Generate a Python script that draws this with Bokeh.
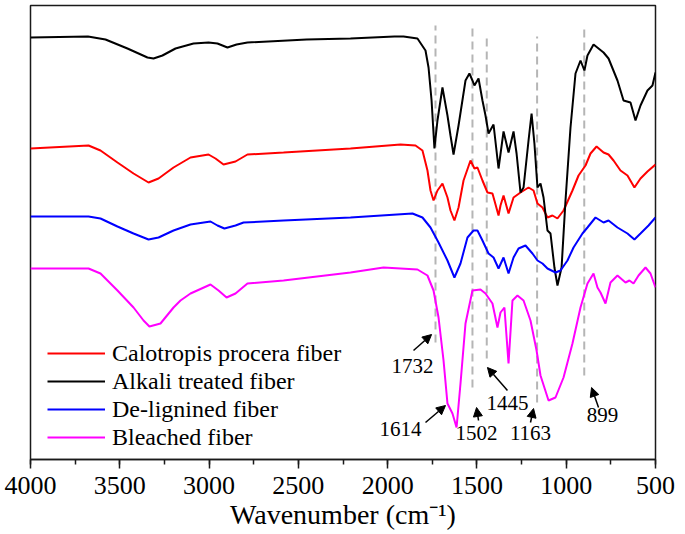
from bokeh.plotting import figure
from bokeh.models import Range1d, SingleIntervalTicker, Arrow, NormalHead, ColumnDataSource
from bokeh.core.properties import value
from bokeh.embed import file_html
from bokeh.resources import INLINE

FONT = "Liberation Serif"

# ---------------- data (wavenumber cm-1, transmittance a.u.) ----------------
alk_wn = [4000, 3678, 3580, 3457, 3345, 3311, 3261, 3188, 3087, 3003, 2953, 2897, 2846, 2785,
          2454, 2208, 1962, 1911, 1833, 1788, 1771, 1754, 1738, 1721, 1693, 1665, 1648, 1631, 1603,
          1564, 1542, 1525, 1514, 1491, 1469, 1452, 1435, 1407, 1379, 1351, 1323, 1295, 1278,
          1256, 1239, 1211, 1194, 1178, 1161, 1144, 1127, 1105, 1088, 1066, 1049, 1026, 1004,
          976, 948, 920, 898, 881, 847, 791, 763, 713, 679, 640, 612, 584, 545, 517, 500]
alk_t = [423, 424, 421, 412, 403, 402, 405, 412, 417, 418, 417, 413, 416, 418,
         421, 422, 424, 424, 422, 410, 393, 360, 312, 340, 373, 345, 325, 306, 335,
         380, 387, 380, 375, 382, 360, 345, 327, 336, 292, 329, 308, 329, 307,
         268, 273, 320, 347, 317, 273, 277, 263, 230, 227, 193, 175, 193, 260,
         333, 387, 400, 390, 405, 416, 408, 402, 380, 360, 358, 340, 355, 370, 375, 388]

cal_wn = [4000, 3675, 3608, 3513, 3423, 3339, 3283, 3199, 3104, 3003, 2964, 2919, 2852, 2785,
          2583, 2208, 1928, 1844, 1805, 1777, 1760, 1743, 1721, 1693, 1665, 1648, 1626, 1603,
          1575, 1536, 1514, 1497, 1469, 1441, 1413, 1402, 1379, 1368, 1351, 1323, 1295, 1256,
          1211, 1183, 1161, 1133, 1105, 1077, 1049, 1015, 965, 931, 892, 864, 830, 791, 763,
          735, 696, 657, 618, 584, 545, 500]
cal_t = [312, 315, 310, 298, 287, 278, 282, 293, 303, 306, 302, 296, 299, 306,
         308, 312, 316, 315, 310, 290, 270, 260, 270, 277, 263, 250, 240, 253,
         280, 300, 292, 293, 280, 268, 267, 260, 245, 255, 265, 247, 263, 268,
         273, 270, 257, 253, 243, 245, 242, 250, 270, 285, 295, 307, 314, 308, 306,
         300, 290, 285, 273, 282, 289, 296]

del_wn = [4000, 3675, 3608, 3513, 3423, 3339, 3283, 3199, 3104, 2992, 2953, 2914, 2852, 2807,
          2583, 2208, 1861, 1805, 1760, 1715, 1665, 1626, 1592, 1553, 1519, 1497, 1469, 1435,
          1407, 1379, 1351, 1323, 1295, 1267, 1228, 1189, 1161, 1133, 1105, 1060, 1032, 993,
          959, 909, 881, 836, 791, 763, 713, 657, 618, 584, 539, 500]
del_t = [244, 244, 242, 234, 227, 221, 223, 230, 236, 239, 235, 232, 235, 238,
         240, 243, 247, 243, 233, 218, 200, 183, 197, 223, 230, 230, 220, 207,
         203, 192, 203, 187, 203, 212, 215, 207, 200, 197, 192, 188, 190, 200,
         213, 227, 233, 243, 238, 240, 233, 227, 221, 227, 235, 243]

ble_wn = [4000, 3675, 3608, 3513, 3423, 3367, 3334, 3272, 3199, 3160, 3104, 2992, 2947, 2902,
          2852, 2785, 2583, 2208, 2023, 1833, 1777, 1743, 1715, 1687, 1665, 1637, 1614, 1592,
          1564, 1525, 1480, 1452, 1413, 1385, 1368, 1346, 1323, 1301, 1273, 1239, 1200, 1166,
          1144, 1099, 1060, 1015, 965, 920, 881, 847, 825, 808, 780, 752, 713, 668, 646, 623,
          595, 556, 528, 500]
ble_t = [192, 192, 187, 170, 153, 140, 134, 137, 153, 160, 167, 176, 170, 163,
         167, 177, 180, 188, 193, 191, 185, 170, 143, 100, 57, 47, 33, 77,
         137, 170, 171, 167, 157, 133, 148, 153, 97, 160, 165, 160, 140, 110,
         85, 60, 63, 83, 117, 153, 177, 187, 173, 168, 157, 178, 185, 178, 180, 177,
         185, 193, 187, 173]

series_names = ["Calotropis procera fiber", "Alkali treated fiber", "De-lignined fiber", "Bleached fiber"]
series_colors = ["#ff0000", "#000000", "#0000ff", "#ff00ff"]

# marker bands (dashed guide lines)
band_wn = [1732, 1525, 1445, 1163, 899]
band_top = [435, 436, 427, 424, 431]
band_bottom = [118, 73, 102, 58, 85]

# peak annotations
ann_text = ["1732", "1614", "1502", "1445", "1163", "899"]
ann_x = [1861, 1928, 1502, 1329, 1200, 797]
ann_y = [95, 32, 28, 58, 28, 46]
arr_x0 = [1855, 1788, 1491, 1329, 1200, 819]
arr_y0 = [110, 38, 40, 70, 38, 53]
arr_x1 = [1754, 1676, 1502, 1441, 1183, 858]
arr_y1 = [126, 55, 53, 93, 52, 73]

# ---------------- figure ----------------
p = figure(width=685, height=534, x_range=Range1d(4000, 500), y_range=Range1d(1, 455),
           output_backend="svg", toolbar_location=None, y_axis_location=None,
           min_border_left=30, min_border_right=30, min_border_top=5, min_border_bottom=75,
           title=None)
p.xgrid.visible = False
p.ygrid.visible = False
p.outline_line_color = "#1a1a1a"
p.outline_line_width = 1.5
p.outline_line_alpha = 1.0
p.background_fill_color = "white"
p.border_fill_color = "white"

p.segment(x0=band_wn, y0=band_bottom, x1=band_wn, y1=band_top,
          line_color="#b5b5b5", line_width=2, line_dash="8 5")

series = [(cal_wn, cal_t), (alk_wn, alk_t), (del_wn, del_t), (ble_wn, ble_t)]
for (wn, t), name, col in zip(series, series_names, series_colors):
    p.line(wn, t, line_color=col, line_width=2, legend_label=name)

arr_src = ColumnDataSource(dict(x0=arr_x0, y0=arr_y0, x1=arr_x1, y1=arr_y1))
p.add_layout(Arrow(end=NormalHead(size=9, fill_color="black", line_color="black", line_width=1),
                   x_start="x0", y_start="y0", x_end="x1", y_end="y1", source=arr_src,
                   line_color="black", line_width=1.5))

p.text(x=ann_x, y=ann_y, text=ann_text, text_align="center", text_baseline="middle",
       text_font=value(FONT), text_font_size="21px", text_color="black")

ax = p.xaxis[0]
ax.ticker = SingleIntervalTicker(interval=500, num_minor_ticks=2)
ax.axis_line_color = "#1a1a1a"
ax.axis_line_width = 1.5
ax.major_tick_line_color = "#1a1a1a"
ax.major_tick_line_width = 1.5
ax.minor_tick_line_color = "#1a1a1a"
ax.minor_tick_line_width = 1.5
ax.major_tick_in = 0
ax.major_tick_out = 9
ax.minor_tick_in = 0
ax.minor_tick_out = 5
ax.major_label_standoff = 8
ax.major_label_text_font = FONT
ax.major_label_text_font_size = "26px"
ax.major_label_text_color = "black"
ax.axis_label = "Wavenumber (cm\u207b\u00b9)"
ax.axis_label_standoff = 2
ax.axis_label_text_font = FONT
ax.axis_label_text_font_size = "28px"
ax.axis_label_text_font_style = "normal"
ax.axis_label_text_color = "black"

lg = p.legend[0]
lg.location = (17, 8)
lg.padding = 0
lg.margin = 0
lg.spacing = 0
lg.border_line_alpha = 0
lg.background_fill_alpha = 0
lg.glyph_width = 58
lg.glyph_height = 28
lg.label_height = 28
lg.label_standoff = 7
lg.label_text_font = FONT
lg.label_text_font_size = "24px"
lg.label_text_color = "black"

open("out.html", "w").write(file_html(p, INLINE))
